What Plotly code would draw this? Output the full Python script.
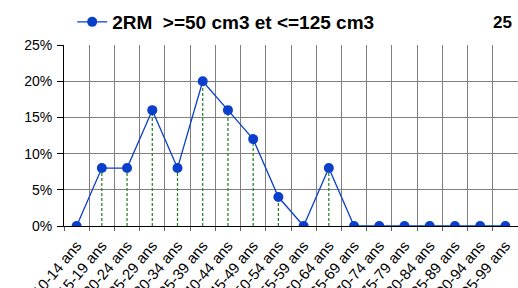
import plotly.graph_objects as go

categories = ["10-14 ans", "15-19 ans", "20-24 ans", "25-29 ans", "30-34 ans", "35-39 ans",
              "40-44 ans", "45-49 ans", "50-54 ans", "55-59 ans", "60-64 ans", "65-69 ans",
              "70-74 ans", "75-79 ans", "80-84 ans", "85-89 ans", "90-94 ans", "95-99 ans"]
values = [0, 8, 8, 16, 8, 20, 16, 12, 4, 0, 8, 0, 0, 0, 0, 0, 0, 0]
series_name = "2RM  >=50 cm3 et <=125 cm3"
corner_label = "25"
y_ticks = [0, 5, 10, 15, 20, 25]

drop_x, drop_y = [], []
for c, v in zip(categories, values):
    drop_x += [c, c, None]
    drop_y += [0, v, None]

FONT = "Liberation Sans, Arial"

fig = go.Figure()
fig.add_trace(go.Scatter(x=drop_x, y=drop_y, mode="lines",
                         line=dict(color="#1f7a1f", width=1.2, dash="3px,2px"),
                         showlegend=False, hoverinfo="skip"))
fig.add_trace(go.Scatter(x=categories, y=values, mode="lines+markers",
                         name=series_name.replace("  ", "&nbsp;&nbsp;"),
                         line=dict(color="#0a3fcc", width=1.3),
                         marker=dict(color="#0a3fcc", size=10)))

fig.add_annotation(text="<b>" + corner_label + "</b>", xref="paper", yref="paper",
                   x=1.0, y=1.0, xshift=-4, yshift=23, xanchor="right", yanchor="middle",
                   showarrow=False, font=dict(family=FONT, size=17, color="black"))

fig.update_layout(
    width=518, height=288,
    margin=dict(l=64, r=0, t=45, b=62),
    paper_bgcolor="white", plot_bgcolor="white",
    font=dict(family=FONT, color="black"),
    showlegend=True,
    legend=dict(x=0.018, y=1.127, xref="paper", yref="paper", xanchor="left", yanchor="middle",
                orientation="h", bgcolor="rgba(0,0,0,0)",
                font=dict(size=19, family=FONT, color="black", weight="bold")),
    xaxis=dict(type="category", categoryorder="array", categoryarray=categories,
               tickson="boundaries", showgrid=True, gridcolor="#808080", gridwidth=1,
               tickangle=-50, tickfont=dict(size=15), ticks="outside", ticklen=4,
               tickcolor="#606060", automargin=False, ticklabelstandoff=4,
               showline=True, linecolor="black", linewidth=1, range=[-0.5, 17.5]),
    yaxis=dict(range=[0, 25], tickvals=y_ticks, ticktext=[f"{t}%" for t in y_ticks],
               showgrid=True, gridcolor="#808080", gridwidth=1, zeroline=True,
               zerolinecolor="black", zerolinewidth=1, automargin=False,
               showline=True, linecolor="black", linewidth=1, ticklabelstandoff=2,
               ticks="outside", ticklen=6, tickcolor="black", tickfont=dict(size=14)),
)
fig.write_html("out.html", config={"displayModeBar": False},
               post_script="document.body.style.margin='0px';document.body.style.overflow='hidden';")
